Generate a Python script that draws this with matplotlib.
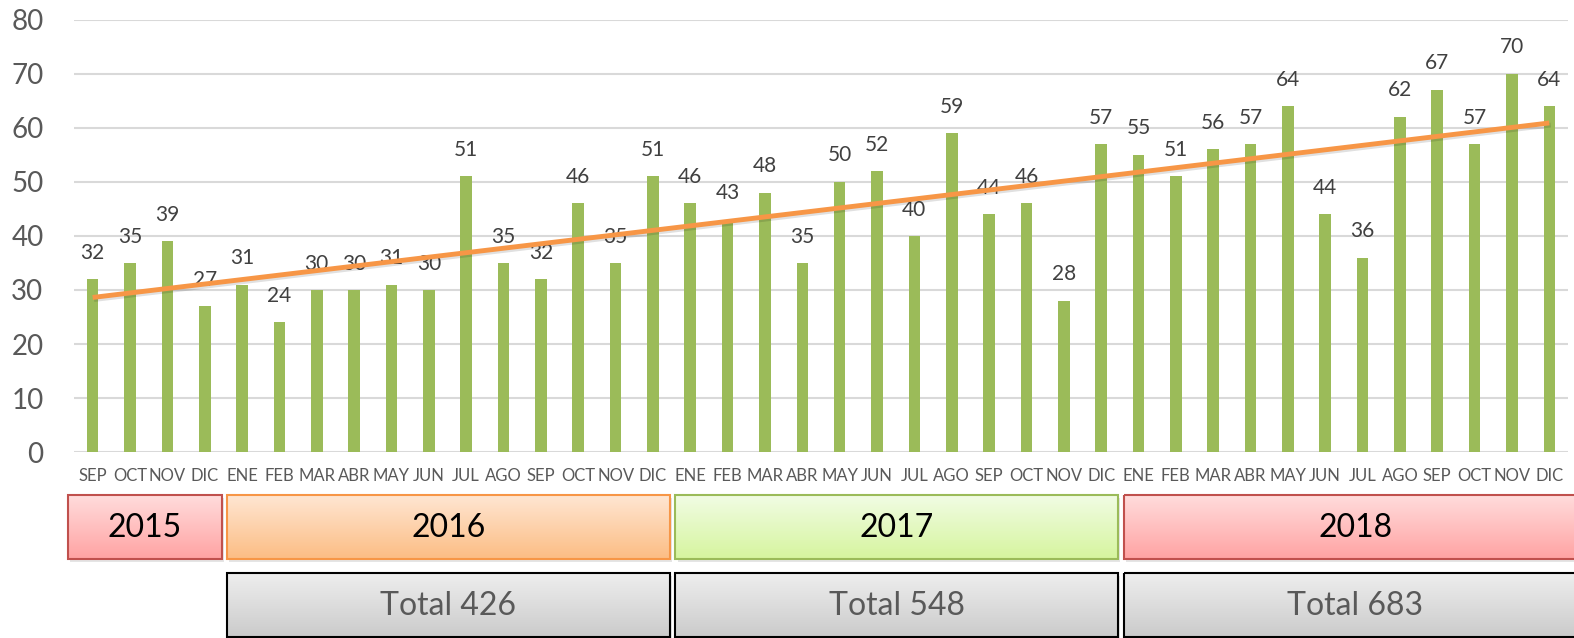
import numpy as np
import matplotlib
matplotlib.use("Agg")
import matplotlib.pyplot as plt
import matplotlib.patheffects as pe
from matplotlib.patches import Rectangle

plt.rcParams['font.family'] = ['Lato', 'DejaVu Sans']

# monthly values, Sep 2015 .. Dec 2018
months = ['SEP', 'OCT', 'NOV', 'DIC',
          'ENE', 'FEB', 'MAR', 'ABR', 'MAY', 'JUN', 'JUL', 'AGO', 'SEP', 'OCT', 'NOV', 'DIC',
          'ENE', 'FEB', 'MAR', 'ABR', 'MAY', 'JUN', 'JUL', 'AGO', 'SEP', 'OCT', 'NOV', 'DIC',
          'ENE', 'FEB', 'MAR', 'ABR', 'MAY', 'JUN', 'JUL', 'AGO', 'SEP', 'OCT', 'NOV', 'DIC']
values = [32, 35, 39, 27,
          31, 24, 30, 30, 31, 30, 51, 35, 32, 46, 35, 51,
          46, 43, 48, 35, 50, 52, 40, 59, 44, 46, 28, 57,
          55, 51, 56, 57, 64, 44, 36, 62, 67, 57, 70, 64]

years = ['2015', '2016', '2017', '2018']
months_per_year = [4, 12, 12, 12]
totals = [None, 'Total 426', 'Total 548', 'Total 683']

W, H = 1574, 638
fig = plt.figure(figsize=(W / 100, H / 100), dpi=100)
ax = fig.add_axes([74 / W, (H - 452.3) / H, 1494 / W, (452.3 - 19.5) / H])

x = np.arange(len(values))
ax.bar(x, values, width=0.31, color='#9BBB59', zorder=2)
ax.set_xlim(-0.5, len(values) - 0.5)
ax.set_ylim(0, 80)
ax.set_yticks(range(0, 81, 10))
ax.grid(axis='y', color='#d9d9d9', linewidth=1.5, zorder=0)
for s in ax.spines.values():
    s.set_visible(False)
ax.tick_params(axis='y', length=0, labelsize=20, labelcolor='#595959', pad=22)
ax.tick_params(axis='x', length=0, labelsize=12, labelcolor='#595959', pad=11)
ax.set_xticks(x)
ax.set_xticklabels(months)

for xi, v in zip(x, values):
    ax.annotate(str(v), (xi, v), xytext=(0, 19), textcoords='offset points',
                ha='center', va='center', fontsize=15, color='#404040', zorder=3)

# linear trend
k, b = np.polyfit(x, values, 1)
ax.plot([x[0], x[-1]], [k * x[0] + b, k * x[-1] + b], color='#F79646', lw=3.5,
        solid_capstyle='butt', zorder=5,
        path_effects=[pe.SimpleLineShadow(offset=(1, -1.5), alpha=0.12), pe.Normal()])

# year / total boxes below the chart (pixel coordinates in y)
ov = fig.add_axes([0, 0, 1, 1])
xl = (-0.5 - 74 / 37.35, -0.5 + (W - 74) / 37.35)
ov.axis('off')

year_colors = [('#FFDCDC', '#FFA3A3', '#C0504D'),
               ('#FFE6D2', '#FCBD84', '#F79646'),
               ('#F1FCE4', '#D6F59E', '#9BBB59'),
               ('#FFDCDC', '#FFA3A3', '#C0504D')]


def grad_box(x0, x1, y0, y1, top, bottom, edge, lw=1.5):
    c0 = np.array(matplotlib.colors.to_rgb(top))
    c1 = np.array(matplotlib.colors.to_rgb(bottom))
    t = np.linspace(0, 1, 64)[:, None, None]
    img = c0 * (1 - t) + c1 * t
    ov.add_patch(Rectangle((x0 + 0.06, y0 + 3), x1 - x0, y1 - y0, facecolor='#000000',
                           alpha=0.10, edgecolor='none', zorder=1))
    ov.imshow(img, extent=(x0, x1, y1, y0), origin='upper', aspect='auto', zorder=2,
              interpolation='bilinear')
    ov.add_patch(Rectangle((x0, y0), x1 - x0, y1 - y0, facecolor='none', edgecolor=edge,
                           lw=lw, zorder=3))


start = -0.5
for i, (yr, n) in enumerate(zip(years, months_per_year)):
    end = start + n
    x0 = start + 0.1 if i > 0 else start - 0.16
    x1 = end - 0.05 if i < len(years) - 1 else end + 0.5
    grad_box(x0, x1, 495, 559, *year_colors[i])
    cx = (x0 + x1) / 2
    ov.text(cx, 528, yr, ha='center', va='center', fontsize=23, color='black', zorder=4)
    if totals[i]:
        grad_box(x0, x1, 573, 637, '#EEEEEE', '#CBCBCB', 'black')
        ov.text(cx, 606, totals[i], ha='center', va='center', fontsize=23,
                color='#595959', zorder=4)
    start = end

ov.set_xlim(*xl)
ov.set_ylim(H, 0)

fig.savefig('out.png', dpi=100)
